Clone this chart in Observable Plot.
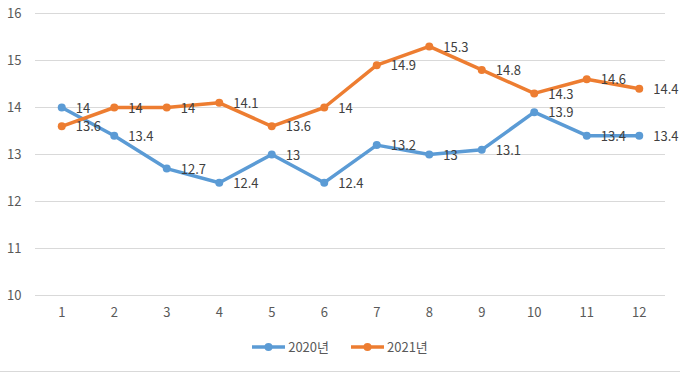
<!DOCTYPE html>
<html><head><meta charset="utf-8">
<script src="https://cdn.jsdelivr.net/npm/d3@7"></script>
<script src="https://cdn.jsdelivr.net/npm/@observablehq/plot@0.6"></script>
<style>
body{margin:0;background:#fff;font-family:"Noto Sans CJK KR","Noto Sans",sans-serif;}
#wrap{width:680px;height:371px;border-bottom:1px solid #d9d9d9;position:relative;overflow:hidden;}
#legend{position:absolute;top:337px;left:0;width:680px;display:flex;justify-content:center;gap:22px;font-size:13px;color:#595959;}
.item{display:flex;align-items:center;gap:3px;}
</style></head><body>
<div id="wrap"><div id="chart"></div><div id="legend"></div></div>
<script>
const months = [1,2,3,4,5,6,7,8,9,10,11,12];
const series = ["2020년","2021년"];
const v2020 = [14,13.4,12.7,12.4,13,12.4,13.2,13,13.1,13.9,13.4,13.4];
const v2021 = [13.6,14,14,14.1,13.6,14,14.9,15.3,14.8,14.3,14.6,14.4];
const colors = ["#5B9BD5","#ED7D31"];
const yTicks = [10,11,12,13,14,15,16];

const data = [];
[v2020, v2021].forEach((vals, i) => vals.forEach((v, j) => data.push({month: months[j], value: v, series: series[i]})));

const plot = Plot.plot({
  width: 680, height: 330,
  marginLeft: 35, marginRight: 15, marginTop: 13, marginBottom: 35,
  style: {fontFamily: '"Noto Sans CJK KR","Noto Sans",sans-serif', fontSize: "13px", color: "#595959"},
  x: {type: "point", domain: months, padding: 0.5, round: false, label: null},
  y: {domain: [10, 16], label: null},
  color: {domain: series, range: colors},
  marks: [
    Plot.gridY(yTicks, {stroke: "#d9d9d9", strokeOpacity: 1, strokeWidth: 1}),
    Plot.axisY(yTicks, {tickSize: 0, tickPadding: 14, fontSize: 13, fill: "#595959", label: null}),
    Plot.axisX(months, {tickSize: 0, tickPadding: 12, fontSize: 13, fill: "#595959", label: null}),
    Plot.line(data, {x: "month", y: "value", z: "series", stroke: "series", strokeWidth: 3.5}),
    Plot.dot(data, {x: "month", y: "value", fill: "series", r: 4}),
    Plot.text(data, {x: "month", y: "value", text: d => String(d.value), textAnchor: "start", dx: 14, dy: 1, fill: "#404040", fontSize: 13})
  ]
});
document.getElementById("chart").append(plot);

const legend = document.getElementById("legend");
series.forEach((s, i) => {
  const it = document.createElement("div");
  it.className = "item";
  it.innerHTML = `<svg width="33" height="10"><line x1="0" y1="5" x2="33" y2="5" stroke="${colors[i]}" stroke-width="3.5"/><circle cx="16.5" cy="5" r="4" fill="${colors[i]}"/></svg><span>${s}</span>`;
  legend.append(it);
});
</script>
</body></html>
